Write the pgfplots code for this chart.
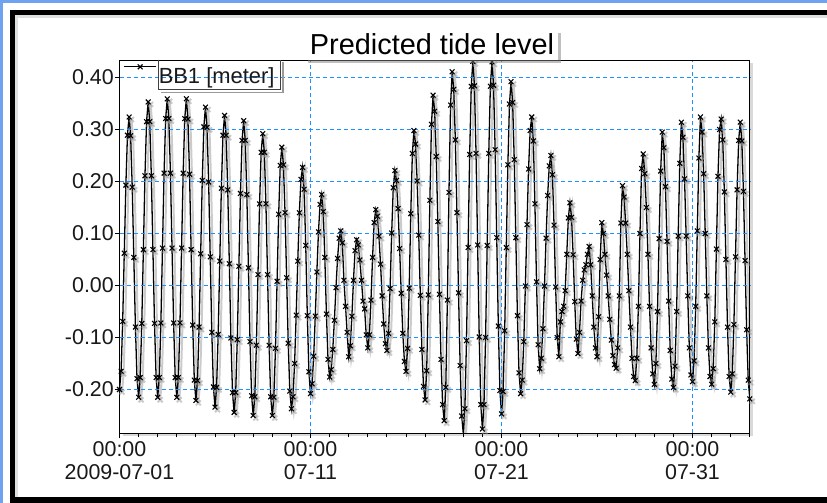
\documentclass[border=0pt]{standalone}
\usepackage{fontspec}
\setmainfont{Liberation Sans}
\usepackage{pgfplots}
\pgfplotsset{compat=1.18}
\usepackage{pgfplotstable}
\usetikzlibrary{shadows,backgrounds}
\definecolor{gridblue}{RGB}{30,144,255}
\definecolor{frameblue}{RGB}{112,162,242}

\pgfplotstableread[row sep=\\]{
h v\\
0 -0.200\\ 2 -0.165\\ 4 -0.069\\ 6 0.062\\ 8 0.193\\ 10 0.289\\ 12 0.324\\ 14 0.288\\ 16 0.189\\ 18 0.054\\ 20 -0.080\\ 22 -0.179\\
24 -0.215\\ 26 -0.177\\ 28 -0.073\\ 30 0.069\\ 32 0.211\\ 34 0.315\\ 36 0.353\\ 38 0.315\\ 40 0.211\\ 42 0.069\\ 44 -0.073\\ 46 -0.177\\
48 -0.215\\ 50 -0.177\\ 52 -0.072\\ 54 0.072\\ 56 0.216\\ 58 0.321\\ 60 0.359\\ 62 0.321\\ 64 0.216\\ 66 0.072\\ 68 -0.072\\ 70 -0.177\\
72 -0.215\\ 74 -0.177\\ 76 -0.072\\ 78 0.072\\ 80 0.216\\ 82 0.321\\ 84 0.359\\ 86 0.320\\ 88 0.214\\ 90 0.069\\ 92 -0.076\\ 94 -0.182\\
96 -0.221\\ 98 -0.183\\ 100 -0.080\\ 102 0.061\\ 104 0.202\\ 106 0.305\\ 108 0.343\\ 110 0.304\\ 112 0.199\\ 114 0.055\\ 116 -0.090\\ 118 -0.195\\
120 -0.234\\ 122 -0.196\\ 124 -0.094\\ 126 0.047\\ 128 0.187\\ 130 0.289\\ 132 0.327\\ 134 0.289\\ 136 0.184\\ 138 0.042\\ 140 -0.101\\ 142 -0.206\\
144 -0.244\\ 146 -0.206\\ 148 -0.104\\ 150 0.037\\ 152 0.177\\ 154 0.279\\ 156 0.317\\ 158 0.279\\ 160 0.175\\ 162 0.034\\ 164 -0.108\\ 166 -0.212\\
168 -0.250\\ 170 -0.214\\ 172 -0.115\\ 174 0.021\\ 176 0.157\\ 178 0.256\\ 180 0.292\\ 182 0.256\\ 184 0.157\\ 186 0.021\\ 188 -0.115\\ 190 -0.214\\
192 -0.250\\ 194 -0.215\\ 196 -0.121\\ 198 0.008\\ 200 0.137\\ 202 0.231\\ 204 0.266\\ 206 0.232\\ 208 0.140\\ 210 0.015\\ 212 -0.111\\ 214 -0.203\\
216 -0.237\\ 218 -0.214\\ 220 -0.150\\ 222 -0.057\\ 224 0.047\\ 226 0.140\\ 228 0.204\\ 230 0.227\\ 232 0.185\\ 234 0.077\\ 236 -0.058\\ 238 -0.166\\
240 -0.208\\ 242 -0.189\\ 244 -0.136\\ 246 -0.059\\ 248 0.026\\ 250 0.103\\ 252 0.156\\ 254 0.175\\ 256 0.142\\ 258 0.054\\ 260 -0.055\\ 262 -0.142\\
264 -0.176\\ 266 -0.162\\ 268 -0.123\\ 270 -0.067\\ 272 -0.004\\ 274 0.052\\ 276 0.091\\ 278 0.105\\ 280 0.082\\ 282 0.010\\ 284 -0.040\\ 286 -0.090\\
288 -0.137\\ 290 -0.116\\ 292 -0.059\\ 294 0.010\\ 296 0.067\\ 298 0.088\\ 300 0.078\\ 302 0.049\\ 304 0.010\\ 306 -0.030\\ 308 -0.045\\ 310 -0.095\\
312 -0.120\\ 314 -0.095\\ 316 -0.028\\ 318 0.054\\ 320 0.121\\ 322 0.146\\ 324 0.133\\ 326 0.095\\ 328 0.041\\ 330 -0.020\\ 332 -0.074\\ 334 -0.112\\
336 -0.125\\ 338 -0.092\\ 340 -0.006\\ 342 0.101\\ 344 0.188\\ 346 0.221\\ 348 0.202\\ 350 0.148\\ 352 0.071\\ 354 -0.015\\ 356 -0.092\\ 358 -0.146\\
360 -0.165\\ 362 -0.121\\ 364 -0.005\\ 366 0.138\\ 368 0.254\\ 370 0.298\\ 372 0.272\\ 374 0.201\\ 376 0.097\\ 378 -0.019\\ 380 -0.123\\ 382 -0.194\\
384 -0.220\\ 386 -0.164\\ 388 -0.018\\ 390 0.164\\ 392 0.310\\ 394 0.366\\ 396 0.335\\ 398 0.248\\ 400 0.123\\ 402 -0.017\\ 404 -0.142\\ 406 -0.229\\
408 -0.260\\ 410 -0.196\\ 412 -0.028\\ 414 0.179\\ 416 0.347\\ 418 0.411\\ 420 0.377\\ 422 0.280\\ 424 0.140\\ 426 -0.014\\ 428 -0.154\\ 430 -0.251\\
432 -0.285\\ 434 -0.237\\ 436 -0.106\\ 438 0.073\\ 440 0.252\\ 442 0.383\\ 444 0.431\\ 446 0.384\\ 448 0.254\\ 450 0.078\\ 452 -0.099\\ 454 -0.229\\
456 -0.276\\ 458 -0.229\\ 460 -0.100\\ 462 0.077\\ 464 0.254\\ 466 0.383\\ 468 0.430\\ 470 0.385\\ 472 0.261\\ 474 0.092\\ 476 -0.078\\ 478 -0.202\\
480 -0.247\\ 482 -0.204\\ 484 -0.087\\ 486 0.073\\ 488 0.232\\ 490 0.349\\ 492 0.392\\ 494 0.352\\ 496 0.242\\ 498 0.092\\ 500 -0.058\\ 502 -0.168\\
504 -0.208\\ 506 -0.182\\ 508 -0.108\\ 510 -0.001\\ 512 0.117\\ 514 0.224\\ 516 0.298\\ 518 0.324\\ 520 0.278\\ 522 0.157\\ 524 0.007\\ 526 -0.114\\
528 -0.160\\ 530 -0.140\\ 532 -0.083\\ 534 -0.001\\ 536 0.091\\ 538 0.173\\ 540 0.230\\ 542 0.250\\ 544 0.213\\ 546 0.116\\ 548 -0.003\\ 550 -0.100\\
552 -0.137\\ 554 -0.070\\ 556 -0.050\\ 558 -0.040\\ 560 -0.010\\ 562 0.060\\ 564 0.130\\ 566 0.159\\ 568 0.131\\ 570 0.059\\ 572 -0.031\\ 574 -0.103\\
576 -0.131\\ 578 -0.090\\ 580 -0.030\\ 582 0.010\\ 584 0.030\\ 586 0.040\\ 588 0.060\\ 590 0.075\\ 592 0.040\\ 594 -0.020\\ 596 -0.080\\ 598 -0.120\\
600 -0.137\\ 602 -0.060\\ 604 0.050\\ 606 0.121\\ 608 0.100\\ 610 0.060\\ 612 0.020\\ 614 -0.020\\ 616 -0.065\\ 618 -0.105\\ 620 -0.135\\ 622 -0.152\\
624 -0.159\\ 626 -0.120\\ 628 -0.020\\ 630 0.120\\ 632 0.192\\ 634 0.170\\ 636 0.120\\ 638 0.060\\ 640 -0.010\\ 642 -0.080\\ 644 -0.140\\ 646 -0.175\\
648 -0.183\\ 650 -0.140\\ 652 -0.040\\ 654 0.100\\ 656 0.225\\ 658 0.253\\ 660 0.215\\ 662 0.150\\ 664 0.060\\ 666 -0.040\\ 668 -0.120\\ 670 -0.170\\
672 -0.190\\ 674 -0.150\\ 676 -0.050\\ 678 0.090\\ 680 0.220\\ 682 0.295\\ 684 0.265\\ 686 0.190\\ 688 0.085\\ 690 -0.030\\ 692 -0.125\\ 694 -0.180\\
696 -0.196\\ 698 -0.155\\ 700 -0.050\\ 702 0.095\\ 704 0.235\\ 706 0.314\\ 708 0.285\\ 710 0.205\\ 712 0.095\\ 714 -0.020\\ 716 -0.120\\ 718 -0.172\\
720 -0.185\\ 722 -0.145\\ 724 -0.040\\ 726 0.105\\ 728 0.245\\ 730 0.324\\ 732 0.295\\ 734 0.215\\ 736 0.100\\ 738 -0.020\\ 740 -0.120\\ 742 -0.175\\
744 -0.190\\ 746 -0.160\\ 748 -0.070\\ 750 0.070\\ 752 0.210\\ 754 0.300\\ 756 0.320\\ 758 0.280\\ 760 0.180\\ 762 0.050\\ 764 -0.080\\ 766 -0.175\\
768 -0.205\\ 770 -0.170\\ 772 -0.075\\ 774 0.055\\ 776 0.184\\ 778 0.279\\ 780 0.314\\ 782 0.278\\ 784 0.181\\ 786 0.048\\ 788 -0.085\\ 790 -0.182\\
792 -0.218\\
}\tide

\begin{document}
\begin{tikzpicture}
\begin{axis}[
  name=ax,
  scale only axis, width=630.3bp, height=373bp,
  xmin=0, xmax=792, ymin=-0.284615, ymax=0.432692,
  axis background/.style={fill=white},
  axis on top,
  axis line style={black, line width=1bp},
  xmajorgrids, ymajorgrids,
  major grid style={draw=gridblue, dash pattern=on 4bp off 3bp, line width=1bp},
  tick pos=left,
  tick align=outside,
  major tick length=5bp, minor tick length=4bp,
  tick style={black, line width=1bp},
  xtick={0,240,480,720},
  minor xtick={24,48,...,792},
  xticklabels={{00:00\\2009-07-01},{00:00\\07-11},{00:00\\07-21},{00:00\\07-31}},
  xticklabel style={align=center, font=\fontsize{21.5}{23}\selectfont, text=black!90},
  ytick={-0.2,-0.1,0,0.1,0.2,0.3,0.4},
  yticklabels={-0.20,-0.10,0.00,0.10,0.20,0.30,0.40},
  yticklabel style={font=\fontsize{21.5}{23}\selectfont, text=black!90, inner xsep=0.5bp},
  legend style={at={(axis description cs:0.003,0.99)}, anchor=north west,
    draw=none, fill=none, font=\fontsize{22}{24}\selectfont,
    inner xsep=2pt, inner ysep=0pt, text=black!90},
  legend cell align=left,
  legend image code/.code={\draw[mark repeat=2,mark phase=2,#1] plot coordinates {(0pt,10pt)(16pt,10pt)(32pt,10pt)};},
]
\addplot[forget plot, black!40, opacity=0.5, line width=2pt, mark=x, mark size=3.5pt,
  xshift=2.5pt, yshift=-2.5pt] table[x=h,y=v]{\tide};
\addplot[black, line width=1.3pt, mark=x, mark size=3.4pt, mark options={line width=1.1pt}]
  table[x=h,y=v]{\tide};
\addlegendentry{BB1 [meter]}
\end{axis}
\begin{scope}[on background layer, shift={(ax.south west)}, xshift=-119.5bp, yshift=-69.5bp, x=1bp, y=1bp]
\fill[white] (0,0) rectangle (827,503);
\fill[frameblue] (0,500) rectangle (827,503);
\fill[frameblue] (0,0) rectangle (3,503);
\fill[black!12] (15,6) rectangle (827,488);
\fill[white] (18,6) rectangle (827,485);
\fill[black] (10,488) rectangle (827,493);
\fill[black] (10,0) rectangle (15,493);
\fill[black] (10,0) rectangle (827,6);
\fill[black!15] (122.5,66.5) rectangle (752.8,439.5);
\end{scope}
\begin{scope}[shift={(ax.south west)}, xshift=-119.5bp, yshift=-69.5bp, x=1bp, y=1bp]
% legend text box (as in the original, only round the text)
\draw[black!40, line width=1.5bp] (283,441) -- (283,410.5) -- (161,410.5);
\draw[black!75, line width=1bp] (158.5,442.5) -- (158.5,413.5) -- (280.5,413.5) -- (280.5,442.5);
\node[fill=white, drop shadow={opacity=0.5, shadow xshift=2.5bp, shadow yshift=-2.5bp},
  inner xsep=4bp, inner ysep=3bp, text depth=3bp, anchor=base,
  font=\fontsize{29}{32}\selectfont, text=black] at (432,448.7) {Predicted tide level};
\end{scope}
\end{tikzpicture}
\end{document}
